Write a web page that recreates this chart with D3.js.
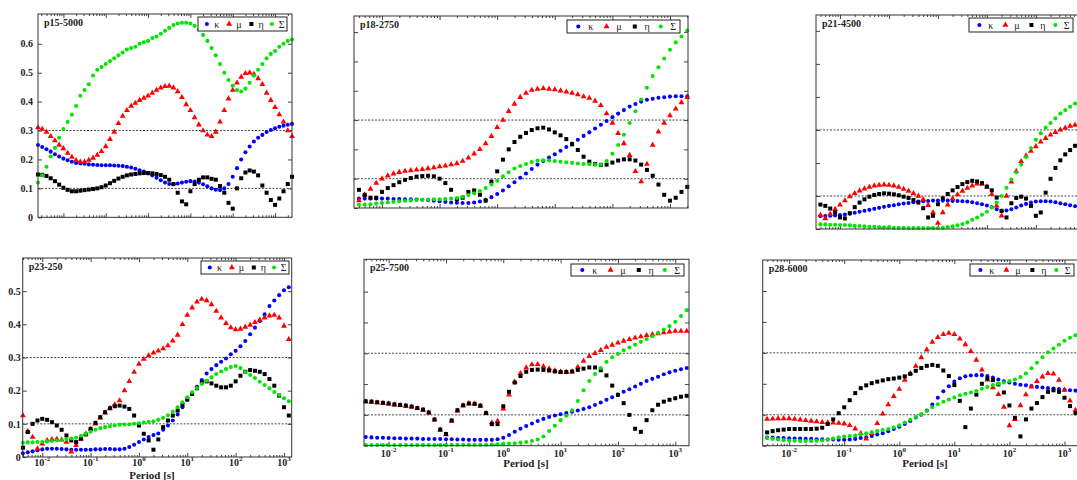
<!DOCTYPE html>
<html>
<head>
<meta charset="utf-8">
<script src="https://cdn.jsdelivr.net/npm/d3@7"></script>
<style>
  body { margin: 0; background: #fff; }
  svg { display: block; }
  text { font-family: "Liberation Serif", "Times New Roman", serif; }
</style>
</head>
<body>
<svg id="fig" width="1077" height="480"></svg>
<script>
// log10 of the period [s], shared sampling grid for every panel
const logPeriod = [
  -2.6, -2.5, -2.4, -2.3, -2.2, -2.1, -2.0, -1.9, -1.8, -1.7,
  -1.6, -1.5, -1.4, -1.3, -1.2, -1.1, -1.0, -0.9, -0.8, -0.7,
  -0.6, -0.5, -0.4, -0.3, -0.2, -0.1, 0.0, 0.1, 0.2, 0.3,
  0.4, 0.5, 0.6, 0.7, 0.8, 0.9, 1.0, 1.1, 1.2, 1.3,
  1.4, 1.5, 1.6, 1.7, 1.8, 1.9, 2.0, 2.1, 2.2, 2.3,
  2.4, 2.5, 2.6, 2.7, 2.8, 2.9, 3.0, 3.1, 3.2, 3.3,
  3.4
];

const panelNames = ["p15-5000", "p18-2750", "p21-4500", "p23-250", "p25-7500", "p28-6000"];
const seriesNames = ["κ", "μ", "η", "Σ"];
const yTickValues = [0, 0.1, 0.2, 0.3, 0.4, 0.5, 0.6];
const refLevels = [0.1, 0.3];
const xExponents = [-2, -1, 0, 1, 2, 3];
const xTitle = "Period [s]";

// ---- p15-5000
const p15Kappa = [
  0.25, 0.243, 0.235, 0.227, 0.218, 0.21, 0.203, 0.197, 0.192, 0.188,
  0.186, 0.185, 0.183, 0.182, 0.181, 0.18, 0.18, 0.18, 0.179, 0.178,
  0.177, 0.175, 0.172, 0.168, 0.163, 0.158, 0.152, 0.145, 0.137, 0.128,
  0.12, 0.115, 0.114, 0.117, 0.12, 0.123, 0.125, 0.124, 0.12, 0.114,
  0.107, 0.1, 0.095, 0.094, 0.1, 0.115, 0.14, 0.17, 0.2, 0.225,
  0.245, 0.262, 0.275, 0.285, 0.295, 0.302, 0.308, 0.313, 0.317, 0.32,
  0.323
];
const p15Mu = [
  0.31, 0.305, 0.295, 0.28, 0.265, 0.25, 0.238, 0.222, 0.208, 0.197,
  0.192, 0.192, 0.198, 0.205, 0.215, 0.228, 0.245, 0.27, 0.295, 0.325,
  0.35, 0.37, 0.385, 0.395, 0.405, 0.412, 0.42, 0.43, 0.44, 0.448,
  0.453, 0.454, 0.448, 0.435, 0.415, 0.39, 0.37, 0.345, 0.32, 0.3,
  0.285, 0.28, 0.295, 0.33, 0.37, 0.41, 0.44, 0.465, 0.485, 0.498,
  0.5, 0.495, 0.48, 0.46, 0.43, 0.405, 0.38, 0.355, 0.33, 0.3,
  0.28
];
const p15Eta = [
  0.148, 0.147, 0.143, 0.135, 0.125, 0.113, 0.102, 0.095, 0.09, 0.09,
  0.092, 0.094, 0.096, 0.098, 0.1, 0.104, 0.11, 0.118, 0.126, 0.134,
  0.14, 0.145, 0.148, 0.15, 0.152, 0.153, 0.153, 0.152, 0.15, 0.146,
  0.14, 0.13, 0.115, 0.085, 0.055, 0.045, 0.09, 0.115, 0.13, 0.138,
  0.138, 0.133, 0.13, 0.108, 0.085, 0.05, 0.03, 0.1, 0.135, 0.155,
  0.162, 0.158, 0.145, 0.11, 0.085, 0.06, 0.043, 0.065, 0.09, 0.115,
  0.14
];
const p15Sigma = [
  0.12, 0.145, 0.175, 0.21, 0.24, 0.275, 0.305, 0.33, 0.355, 0.385,
  0.42, 0.44, 0.46, 0.49, 0.51, 0.52, 0.53, 0.54, 0.55, 0.56,
  0.57, 0.58, 0.585, 0.59, 0.6, 0.605, 0.61, 0.62, 0.625, 0.635,
  0.645, 0.655, 0.665, 0.67, 0.673, 0.673, 0.67, 0.662, 0.65, 0.63,
  0.61, 0.585, 0.56, 0.53, 0.5, 0.475, 0.455, 0.44, 0.435, 0.445,
  0.465, 0.49, 0.51, 0.53, 0.55, 0.565, 0.575, 0.59, 0.6, 0.61,
  0.615
];

// ---- p18-2750
const p18Kappa = [
  null, null, 0.032, 0.032, 0.032, 0.032, 0.032, 0.032, 0.031, 0.031,
  0.03, 0.03, 0.029, 0.028, 0.027, 0.025, 0.023, 0.021, 0.019, 0.018,
  0.017, 0.017, 0.019, 0.022, 0.028, 0.037, 0.048, 0.06, 0.074, 0.088,
  0.103, 0.118, 0.133, 0.148, 0.16, 0.172, 0.183, 0.195, 0.208, 0.22,
  0.233, 0.246, 0.258, 0.271, 0.284, 0.297, 0.31, 0.322, 0.334, 0.346,
  0.355, 0.363, 0.369, 0.373, 0.376, 0.378, 0.38, 0.381, 0.381, 0.381,
  null
];
const p18Mu = [
  null, null, 0.025, 0.045, 0.065, 0.085, 0.1, 0.11, 0.117, 0.122,
  0.126, 0.128, 0.13, 0.132, 0.135, 0.138, 0.141, 0.144, 0.148, 0.152,
  0.16, 0.171, 0.185, 0.2, 0.22, 0.245, 0.275, 0.3, 0.33, 0.355,
  0.378, 0.392, 0.402, 0.406, 0.408, 0.406, 0.404, 0.4, 0.396, 0.392,
  0.387, 0.38, 0.375, 0.365, 0.35, 0.322, 0.29, 0.255, 0.22, 0.18,
  0.125, 0.09, 0.15, 0.215, 0.26, 0.29, 0.315, 0.338, 0.36, 0.378,
  null
];
const p18Eta = [
  null, null, 0.062, 0.045, 0.035, 0.035, 0.055, 0.068, 0.078, 0.088,
  0.096, 0.102, 0.107, 0.109, 0.11, 0.108, 0.1, 0.085, 0.062, 0.03,
  0.035, 0.055, 0.06, 0.045, 0.025, 0.09, 0.125, 0.165, 0.2, 0.225,
  0.243, 0.256, 0.266, 0.272, 0.274, 0.268, 0.258, 0.248, 0.235, 0.217,
  0.198, 0.175, 0.158, 0.15, 0.147, 0.148, 0.155, 0.162, 0.166, 0.166,
  0.162, 0.148, 0.13, 0.11, 0.08, 0.045, 0.025, 0.035, 0.055, 0.072,
  null
];
const p18Sigma = [
  null, null, 0.011, 0.012, 0.013, 0.015, 0.017, 0.019, 0.021, 0.023,
  0.025, 0.026, 0.027, 0.028, 0.029, 0.03, 0.03, 0.031, 0.032, 0.034,
  0.038, 0.044, 0.05, 0.058, 0.068, 0.08, 0.093, 0.108, 0.122, 0.135,
  0.143, 0.15, 0.157, 0.162, 0.163, 0.162, 0.16, 0.158, 0.156, 0.154,
  0.152, 0.15, 0.149, 0.148, 0.148, 0.16, 0.185, 0.215, 0.25, 0.29,
  0.33, 0.37, 0.41, 0.45, 0.48, 0.51, 0.54, 0.565, 0.585, 0.605,
  null
];

// ---- p21-4500
const p21Kappa = [
  null, null, 0.039, 0.039, 0.04, 0.041, 0.042, 0.044, 0.046, 0.049,
  0.052, 0.055, 0.058, 0.061, 0.064, 0.067, 0.07, 0.072, 0.075, 0.077,
  0.079, 0.081, 0.083, 0.084, 0.085, 0.086, 0.086, 0.086, 0.086, 0.085,
  0.085, 0.084, 0.083, 0.081, 0.078, 0.075, 0.071, 0.066, 0.06, 0.055,
  0.056, 0.06, 0.065, 0.071, 0.076, 0.08, 0.083, 0.084, 0.084, 0.083,
  0.081, 0.078, 0.075, 0.072, 0.069, null, null, null, null, null,
  null
];
const p21Mu = [
  null, null, 0.042, 0.032, 0.045, 0.06, 0.073, 0.086, 0.098, 0.108,
  0.116, 0.122, 0.127, 0.131, 0.133, 0.134, 0.133, 0.131, 0.127, 0.121,
  0.115, 0.108, 0.1, 0.09, 0.072, 0.05, 0.018, 0.05, 0.073, 0.092,
  0.104, 0.115, 0.124, 0.131, 0.137, 0.136, 0.128, 0.105, 0.07, 0.04,
  0.1, 0.143, 0.175, 0.205, 0.222, 0.236, 0.25, 0.264, 0.275, 0.285,
  0.293, 0.3, 0.306, 0.312, 0.315, null, null, null, null, null,
  null
];
const p21Eta = [
  null, null, 0.074, 0.07, 0.062, 0.05, 0.035, 0.032, 0.048, 0.066,
  0.08, 0.09, 0.098, 0.103, 0.106, 0.108, 0.107, 0.105, 0.102, 0.098,
  0.094, 0.088, 0.08, 0.063, 0.035, 0.04, 0.075, 0.093, 0.106, 0.117,
  0.127, 0.136, 0.142, 0.146, 0.144, 0.139, 0.128, 0.117, 0.095, 0.055,
  0.035, 0.078, 0.094, 0.098, 0.092, 0.07, 0.04, 0.05, 0.11, 0.152,
  0.185, 0.208, 0.226, 0.239, 0.252, null, null, null, null, null,
  null
];
const p21Sigma = [
  null, null, 0.014, 0.014, 0.013, 0.013, 0.012, 0.012, 0.011, 0.01,
  0.009, 0.008, 0.007, 0.007, 0.006, 0.005, 0.005, 0.004, 0.004, 0.004,
  0.003, 0.003, 0.003, 0.003, 0.003, 0.003, 0.003, 0.004, 0.006, 0.008,
  0.011, 0.015, 0.02, 0.028, 0.035, 0.043, 0.052, 0.065, 0.08, 0.1,
  0.125, 0.15, 0.172, 0.195, 0.218, 0.245, 0.27, 0.29, 0.307, 0.321,
  0.335, 0.35, 0.36, 0.37, 0.38, null, null, null, null, null,
  null
];

// ---- p23-250
const p23Kappa = [
  null, null, 0.011, 0.014, 0.017, 0.02, 0.023, 0.025, 0.025, 0.025,
  0.024, 0.023, 0.022, 0.022, 0.022, 0.022, 0.022, 0.023, 0.023, 0.024,
  0.024, 0.023, 0.023, 0.025, 0.03, 0.037, 0.045, 0.053, 0.06, 0.066,
  0.071, 0.082, 0.095, 0.11, 0.128, 0.15, 0.172, 0.193, 0.212, 0.232,
  0.252, 0.265, 0.277, 0.287, 0.297, 0.31, 0.32, 0.334, 0.35, 0.37,
  0.39, 0.41, 0.43, 0.455, 0.472, 0.488, 0.503, 0.512, null, null,
  null
];
const p23Mu = [
  null, null, 0.125, 0.078, 0.06, 0.025, 0.04, 0.05, 0.053, 0.054,
  0.052, 0.045, 0.016, 0.035, 0.055, 0.07, 0.084, 0.1, 0.118, 0.133,
  0.147, 0.158, 0.17, 0.2, 0.228, 0.256, 0.28, 0.295, 0.306, 0.314,
  0.32, 0.327, 0.336, 0.35, 0.368, 0.4, 0.428, 0.45, 0.468, 0.476,
  0.472, 0.46, 0.44, 0.42, 0.403, 0.39, 0.384, 0.386, 0.392, 0.398,
  0.406, 0.413, 0.42, 0.426, 0.428, 0.42, 0.395, 0.355, null, null,
  null
];
const p23Eta = [
  null, null, 0.028, 0.075, 0.1, 0.11, 0.115, 0.112, 0.105, 0.095,
  0.082, 0.065, 0.05, 0.045, 0.055, 0.068, 0.085, 0.103, 0.12, 0.135,
  0.147, 0.153, 0.155, 0.152, 0.145, 0.125, 0.095, 0.07, 0.05, 0.022,
  0.053, 0.09, 0.11, 0.125, 0.14, 0.157, 0.174, 0.19, 0.207, 0.225,
  0.228, 0.222, 0.215, 0.21, 0.21, 0.215, 0.228, 0.245, 0.257, 0.262,
  0.26, 0.257, 0.25, 0.235, 0.215, 0.185, 0.15, 0.125, null, null,
  null
];
const p23Sigma = [
  null, null, 0.043, 0.044, 0.044, 0.045, 0.045, 0.047, 0.048, 0.05,
  0.052, 0.054, 0.056, 0.058, 0.064, 0.07, 0.076, 0.082, 0.087, 0.09,
  0.093, 0.095, 0.097, 0.098, 0.099, 0.1, 0.102, 0.104, 0.106, 0.108,
  0.112, 0.118, 0.126, 0.137, 0.15, 0.165, 0.18, 0.195, 0.208, 0.22,
  0.23, 0.24, 0.25, 0.258, 0.265, 0.271, 0.274, 0.268, 0.256, 0.247,
  0.238, 0.227, 0.217, 0.207, 0.196, 0.187, 0.177, 0.168, null, null,
  null
];

// ---- p25-7500
const p25Kappa = [
  null, null, 0.028, 0.027, 0.026, 0.026, 0.025, 0.024, 0.024, 0.023,
  0.023, 0.023, 0.022, 0.022, 0.022, 0.022, 0.021, 0.021, 0.02, 0.02,
  0.019, 0.019, 0.019, 0.019, 0.019, 0.021, 0.026, 0.035, 0.045, 0.055,
  0.064, 0.072, 0.08, 0.087, 0.093, 0.098, 0.102, 0.106, 0.11, 0.114,
  0.119, 0.125, 0.132, 0.14, 0.149, 0.157, 0.166, 0.175, 0.183, 0.192,
  0.201, 0.21, 0.217, 0.224, 0.232, 0.238, 0.243, 0.248, 0.252, null,
  null
];
const p25Mu = [
  null, null, 0.143, 0.142, 0.14, 0.138, 0.136, 0.133, 0.131, 0.129,
  0.126, 0.121, 0.116, 0.107, 0.084, 0.052, 0.036, 0.08, 0.113, 0.13,
  0.137, 0.136, 0.129, 0.106, 0.075, 0.08, 0.12, 0.165, 0.207, 0.235,
  0.253, 0.263, 0.264, 0.257, 0.25, 0.244, 0.24, 0.239, 0.24, 0.255,
  0.275, 0.29, 0.3, 0.31, 0.32, 0.327, 0.334, 0.34, 0.345, 0.35,
  0.354, 0.358, 0.361, 0.364, 0.367, 0.37, 0.372, 0.372, 0.372, null,
  null
];
const p25Eta = [
  null, null, 0.144, 0.143, 0.141, 0.139, 0.137, 0.134, 0.132, 0.13,
  0.127, 0.122, 0.117, 0.108, 0.085, 0.052, 0.038, 0.082, 0.115, 0.131,
  0.137, 0.136, 0.13, 0.106, 0.07, 0.07, 0.128, 0.175, 0.205, 0.226,
  0.24, 0.246, 0.247, 0.246, 0.244, 0.241, 0.239, 0.239, 0.241, 0.246,
  0.25, 0.254, 0.254, 0.245, 0.228, 0.195, 0.165, 0.138, 0.1, 0.055,
  0.045, 0.083, 0.115, 0.133, 0.143, 0.149, 0.154, 0.159, 0.162, null,
  null
];
const p25Sigma = [
  null, null, 0.002, 0.002, 0.002, 0.002, 0.002, 0.002, 0.002, 0.002,
  0.002, 0.002, 0.002, 0.002, 0.002, 0.002, 0.002, 0.003, 0.003, 0.003,
  0.003, 0.003, 0.003, 0.003, 0.004, 0.005, 0.006, 0.007, 0.008, 0.01,
  0.012, 0.015, 0.02, 0.03, 0.048, 0.065, 0.083, 0.097, 0.115, 0.145,
  0.18, 0.21, 0.233, 0.252, 0.272, 0.287, 0.298, 0.31, 0.319, 0.328,
  0.337, 0.346, 0.355, 0.366, 0.377, 0.388, 0.402, 0.421, 0.44, null,
  null
];

// ---- p28-6000
const p28Kappa = [
  null, null, 0.026, 0.026, 0.025, 0.025, 0.024, 0.023, 0.023, 0.022,
  0.022, 0.021, 0.021, 0.02, 0.02, 0.019, 0.019, 0.02, 0.022, 0.025,
  0.027, 0.031, 0.036, 0.04, 0.047, 0.054, 0.061, 0.07, 0.08, 0.091,
  0.1, 0.114, 0.133, 0.155, 0.176, 0.192, 0.207, 0.218, 0.224, 0.227,
  0.228, 0.228, 0.225, 0.22, 0.214, 0.208, 0.204, 0.2, 0.197, 0.195,
  0.193, 0.19, 0.188, 0.186, 0.185, 0.183, 0.181, 0.179, 0.178, null,
  null
];
const p28Mu = [
  null, null, 0.086, 0.087, 0.088, 0.088, 0.088, 0.086, 0.084, 0.082,
  0.08, 0.078, 0.076, 0.075, 0.074, 0.073, 0.071, 0.066, 0.055, 0.04,
  0.022, 0.04, 0.072, 0.103, 0.133, 0.16, 0.183, 0.212, 0.234, 0.257,
  0.285, 0.31, 0.335, 0.35, 0.36, 0.364, 0.36, 0.345, 0.327, 0.305,
  0.277, 0.245, 0.213, 0.188, 0.166, 0.125, 0.065, 0.085, 0.13, 0.165,
  0.19, 0.208, 0.223, 0.234, 0.232, 0.212, 0.18, 0.145, 0.115, null,
  null
];
const p28Eta = [
  null, null, 0.043, 0.047, 0.05, 0.052, 0.054, 0.054, 0.054, 0.054,
  0.054, 0.055, 0.058, 0.07, 0.085, 0.105, 0.124, 0.147, 0.17, 0.186,
  0.195, 0.202, 0.207, 0.211, 0.215, 0.217, 0.22, 0.224, 0.232, 0.242,
  0.251, 0.258, 0.261, 0.258, 0.243, 0.225, 0.196, 0.145, 0.06, 0.12,
  0.165, 0.2, 0.217, 0.212, 0.198, 0.172, 0.13, 0.09, 0.03, 0.085,
  0.12, 0.138, 0.157, 0.174, 0.179, 0.174, 0.155, 0.128, 0.105, null,
  null
];
const p28Sigma = [
  null, null, 0.025, 0.022, 0.02, 0.018, 0.017, 0.016, 0.015, 0.015,
  0.015, 0.016, 0.017, 0.02, 0.023, 0.027, 0.03, 0.031, 0.033, 0.037,
  0.04, 0.043, 0.047, 0.051, 0.054, 0.059, 0.066, 0.075, 0.084, 0.093,
  0.102, 0.112, 0.124, 0.134, 0.142, 0.149, 0.156, 0.163, 0.168, 0.172,
  0.177, 0.184, 0.19, 0.196, 0.2, 0.204, 0.209, 0.214, 0.222, 0.233,
  0.25, 0.268, 0.286, 0.302, 0.314, 0.326, 0.339, 0.349, 0.357, null,
  null
];

// ---------------- layout (pixels) ----------------
const markerStyle = [
  { type: d3.symbolCircle,   size: 13, color: "#0000ff" },
  { type: d3.symbolTriangle, size: 15, color: "#ff0000" },
  { type: d3.symbolSquare,   size: 16, color: "#000000" },
  { type: d3.symbolCircle,   size: 13, color: "#00e600" }
];

const panels = [
  { name: panelNames[0], data: [p15Kappa, p15Mu, p15Eta, p15Sigma],
    x0: 38, x1: 292, y0: 14, y1: 217.3, xd: [-2.6, 3.4], yMax: 0.703,
    yLabels: true, yLabelPad: 5, xLabels: false,
    legend: { x: 198, y: 17, w: 89, h: 14 } },
  { name: panelNames[1], data: [p18Kappa, p18Mu, p18Eta, p18Sigma],
    x0: 354, x1: 688, y0: 16, y1: 208, xd: [-2.486, 3.313], yMax: 0.655,
    yLabels: false, xLabels: false,
    legend: { x: 567, y: 20, w: 113, h: 13 } },
  { name: panelNames[2], data: [p21Kappa, p21Mu, p21Eta, p21Sigma],
    x0: 816, x1: 1100, y0: 15, y1: 229, xd: [-2.49, 3.31], yMax: 0.648,
    yLabels: false, xLabels: false,
    legend: { x: 969, y: 18, w: 104, h: 14 } },
  { name: panelNames[3], data: [p23Kappa, p23Mu, p23Eta, p23Sigma],
    x0: 22.7, x1: 291.7, y0: 258, y1: 457, xd: [-2.405, 3.16], yMax: 0.6,
    yLabels: true, yLabelPad: 2, xLabels: true, xLabelY: 466, titleY: 478.5, titleX: 152,
    legend: { x: 201, y: 261, w: 88, h: 13 } },
  { name: panelNames[4], data: [p25Kappa, p25Mu, p25Eta, p25Sigma],
    x0: 364, x1: 689, y0: 259.3, y1: 445.7, xd: [-2.43, 3.24], yMax: 0.605,
    yLabels: false, xLabels: true, xLabelY: 457, titleY: 467, titleX: 526,
    legend: { x: 571, y: 264, w: 113, h: 12 } },
  { name: panelNames[5], data: [p28Kappa, p28Mu, p28Eta, p28Sigma],
    x0: 762.7, x1: 1081, y0: 260, y1: 445.7, xd: [-2.48, 3.3], yMax: 0.6,
    yLabels: false, xLabels: true, xLabelY: 457, titleY: 467, titleX: 925,
    legend: { x: 970, y: 264, w: 104, h: 12 } }
];

const svg = d3.select("#fig");
const isMajor = v => Math.abs(Math.log10(v) - Math.round(Math.log10(v))) < 1e-6;

panels.forEach(p => {
  const g = svg.append("g");
  const x = d3.scaleLog().domain(p.xd.map(v => Math.pow(10, v))).range([p.x0, p.x1]);
  const y = d3.scaleLinear().domain([0, p.yMax]).range([p.y1, p.y0]);

  // reference levels (dotted)
  refLevels.forEach(v => {
    g.append("line")
      .attr("x1", p.x0).attr("x2", p.x1)
      .attr("y1", y(v)).attr("y2", y(v))
      .attr("stroke", "#333").attr("stroke-width", 0.9)
      .attr("stroke-dasharray", "2,1.5");
  });

  // log ticks, inward, top and bottom
  const allTicks = x.ticks();
  const majors = allTicks.filter(isMajor);
  const minors = allTicks.filter(v => !isMajor(v));
  [[d3.axisBottom, p.y1], [d3.axisTop, p.y0]].forEach(([axisFn, ty]) => {
    g.append("g").attr("transform", `translate(0,${ty})`)
      .call(axisFn(x).tickValues(minors).tickSize(-2).tickFormat(""))
      .call(a => a.select(".domain").remove())
      .selectAll("line").attr("stroke", "#444");
    g.append("g").attr("transform", `translate(0,${ty})`)
      .call(axisFn(x).tickValues(majors).tickSize(-4).tickFormat(""))
      .call(a => a.select(".domain").remove())
      .selectAll("line").attr("stroke", "#444");
  });

  // y ticks, inward, left and right (no tick on the top edge)
  const yt = yTickValues.filter(v => v < p.yMax - 0.02);
  const yl = g.append("g").attr("transform", `translate(${p.x0},0)`)
    .call(d3.axisLeft(y).tickValues(yt).tickSize(-4).tickPadding(p.yLabelPad || 3)
      .tickFormat(p.yLabels ? (d => (d === 0 ? "0" : d.toFixed(1))) : ""));
  yl.select(".domain").remove();
  yl.selectAll("line").attr("stroke", "#444");
  yl.selectAll("text").attr("font-size", 10).attr("font-weight", "bold")
    .attr("fill", "#222").style("font-family", '"Liberation Serif", serif');
  const yr = g.append("g").attr("transform", `translate(${p.x1},0)`)
    .call(d3.axisRight(y).tickValues(yt.filter(v => v > 0)).tickSize(-4).tickFormat(""));
  yr.select(".domain").remove();
  yr.selectAll("line").attr("stroke", "#444");

  // x tick labels 10^k and axis title
  if (p.xLabels) {
    const lab = g.selectAll("text.xl")
      .data(xExponents.map(k => Math.pow(10, k)).filter(v => v >= x.domain()[0] && v <= x.domain()[1]))
      .join("text").attr("class", "xl")
      .attr("x", d => x(d)).attr("y", p.xLabelY)
      .attr("text-anchor", "middle").attr("font-size", 10).attr("font-weight", "bold")
      .attr("fill", "#222");
    lab.append("tspan").text("10");
    lab.append("tspan").attr("dy", -5).attr("font-size", 7)
      .text(d => { const k = Math.round(Math.log10(d)); return k < 0 ? "-" + (-k) : String(k); });
    g.append("text").attr("x", p.titleX).attr("y", p.titleY)
      .attr("text-anchor", "middle").attr("font-size", 11).attr("font-weight", "bold")
      .attr("fill", "#222").text(xTitle);
  }

  // markers
  const lo = p.xd[0] - 1e-6, hi = p.xd[1] + 1e-6;
  p.data.forEach((vals, si) => {
    const st = markerStyle[si];
    const pts = logPeriod
      .map((L, i) => ({ L: L, t: Math.pow(10, L), v: vals[i] }))
      .filter(d => d.v !== null && d.L >= lo && d.L <= hi);
    g.append("g").selectAll("path")
      .data(pts).join("path")
      .attr("transform", d => `translate(${x(d.t)},${y(d.v)})`)
      .attr("d", d3.symbol().type(st.type).size(st.size))
      .attr("fill", st.color);
  });

  // frame
  g.append("rect")
    .attr("x", p.x0).attr("y", p.y0)
    .attr("width", p.x1 - p.x0).attr("height", p.y1 - p.y0)
    .attr("fill", "none").attr("stroke", "#333").attr("stroke-width", 1);

  // panel name
  g.append("text").attr("x", p.x0 + 6).attr("y", p.y0 + 12)
    .attr("font-size", 10).attr("font-weight", "bold").attr("fill", "#222")
    .text(p.name);

  // legend
  const L = p.legend;
  const lg = g.append("g");
  lg.append("rect").attr("x", L.x).attr("y", L.y).attr("width", L.w).attr("height", L.h)
    .attr("fill", "#fff").attr("stroke", "#222").attr("stroke-width", 1);
  const fr = [0.1, 0.35, 0.6, 0.83];
  seriesNames.forEach((nm, si) => {
    const mx = L.x + fr[si] * L.w, my = L.y + L.h / 2;
    lg.append("path").attr("transform", `translate(${mx},${my})`)
      .attr("d", d3.symbol().type(markerStyle[si].type).size(markerStyle[si].size))
      .attr("fill", markerStyle[si].color);
    lg.append("text").attr("x", mx + 0.11 * L.w).attr("y", my + 3.5)
      .attr("text-anchor", "middle").attr("font-size", 10).attr("fill", "#222")
      .text(nm);
  });
});
</script>
</body>
</html>
